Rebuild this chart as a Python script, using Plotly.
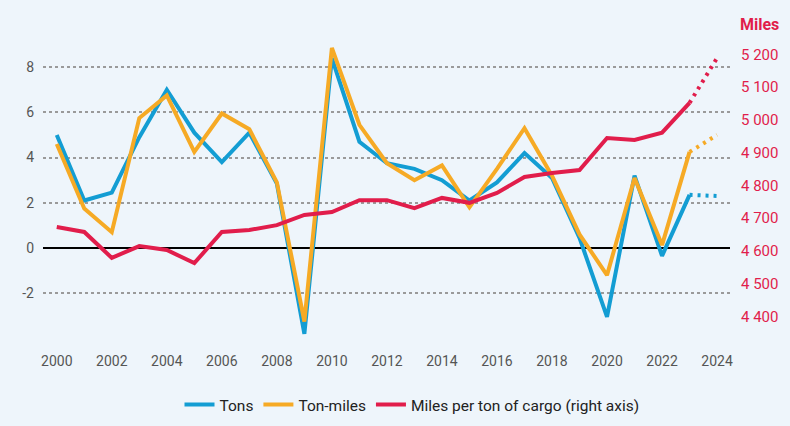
import plotly.graph_objects as go

years = list(range(2000, 2024))
tons = [5.0, 2.1, 2.45, 4.9, 7.0, 5.1, 3.8, 5.1, 2.85, -3.8, 8.4, 4.7, 3.75, 3.5, 3.0,
        2.1, 2.9, 4.2, 3.1, 0.45, -3.05, 3.2, -0.35, 2.35]
ton_miles = [4.6, 1.75, 0.7, 5.75, 6.75, 4.25, 5.95, 5.25, 2.9, -3.25, 8.85, 5.45, 3.75,
             3.0, 3.65, 1.8, 3.5, 5.3, 3.2, 0.6, -1.2, 3.1, 0.13, 4.25]
miles = [4673, 4658, 4579, 4615, 4603, 4563, 4658, 4664, 4679, 4710, 4719, 4755, 4755,
         4731, 4762, 4747, 4777, 4826, 4838, 4847, 4945, 4939, 4961, 5052]

proj_years = [2023, 2024]
tons_proj = [2.35, 2.3]
ton_miles_proj = [4.25, 5.0]
miles_proj = [5052, 5189]

left_ticks = [-2, 0, 2, 4, 6, 8]
left_labels = ["-2", "0", "2", "4", "6", "8"]
right_ticks = [4400, 4500, 4600, 4700, 4800, 4900, 5000, 5100, 5200]
x_ticks = list(range(2000, 2025, 2))

BLUE = "#139DD3"
ORANGE = "#F6AA25"
RED = "#E11D4B"
BG = "#EEF5FB"
FONT = "Roboto, sans-serif"
LW = 4

fig = go.Figure()
fig.add_trace(go.Scatter(x=years, y=miles, mode="lines", yaxis="y2",
                         line=dict(color=RED, width=LW), name="Miles per ton of cargo (right axis)",
                         legendrank=3))
fig.add_trace(go.Scatter(x=proj_years, y=miles_proj, mode="lines", yaxis="y2",
                         line=dict(color=RED, width=LW, dash="3px,5px"), showlegend=False))
fig.add_trace(go.Scatter(x=years, y=tons, mode="lines",
                         line=dict(color=BLUE, width=LW), name="Tons", legendrank=1))
fig.add_trace(go.Scatter(x=proj_years, y=tons_proj, mode="lines",
                         line=dict(color=BLUE, width=LW, dash="3px,5px"), showlegend=False))
fig.add_trace(go.Scatter(x=years, y=ton_miles, mode="lines",
                         line=dict(color=ORANGE, width=LW), name="Ton-miles", legendrank=2))
fig.add_trace(go.Scatter(x=proj_years, y=ton_miles_proj, mode="lines",
                         line=dict(color=ORANGE, width=LW, dash="3px,5px"), showlegend=False))

fig.update_layout(
    width=790, height=426,
    margin=dict(l=43, r=60, t=40, b=81, autoexpand=False),
    paper_bgcolor=BG, plot_bgcolor=BG,
    font=dict(family=FONT, size=14, color="#555555"),
    separators=". ",
    showlegend=True,
    legend=dict(orientation="h", xref="container", yref="container",
                x=412 / 790, xanchor="center", y=1 - 405 / 426, yanchor="middle",
                font=dict(size=15.5, color="#222222"), bgcolor="rgba(0,0,0,0)",
                traceorder="normal"),
    xaxis=dict(range=[1999.5, 2024.47], tickvals=x_ticks, showgrid=False, zeroline=False,
               showline=False, ticks="", ticklabelstandoff=6, automargin=False,
               tickfont=dict(size=14, color="#555555")),
    yaxis=dict(range=[-4.29, 9.2], tickvals=left_ticks, ticktext=left_labels,
               showgrid=True, gridcolor="#9a9a9a", automargin=False,
               gridwidth=1.5, griddash="dot", zeroline=True, zerolinecolor="#000000",
               zerolinewidth=2, showline=False, ticks="", ticklabelstandoff=8,
               tickfont=dict(size=14, color="#555555")),
    yaxis2=dict(range=[4313, 5244], tickvals=right_ticks, overlaying="y", side="right",
                showgrid=False, zeroline=False, showline=False, ticks="",
                ticklabelstandoff=10, automargin=False,
                tickformat=",d", tickfont=dict(size=15, color=RED)),
    annotations=[dict(text="<b>Miles</b>", x=(759 - 43) / 687, y=(345 - 25) / 305,
                      xref="paper", yref="paper", xanchor="center", yanchor="middle",
                      showarrow=False, font=dict(size=16, color=RED))],
)

fig.write_html("out.html", config={"displayModeBar": False},
               post_script="document.body.style.margin='0';document.body.style.overflow='hidden';"
                           "document.body.style.background='" + BG + "';")
